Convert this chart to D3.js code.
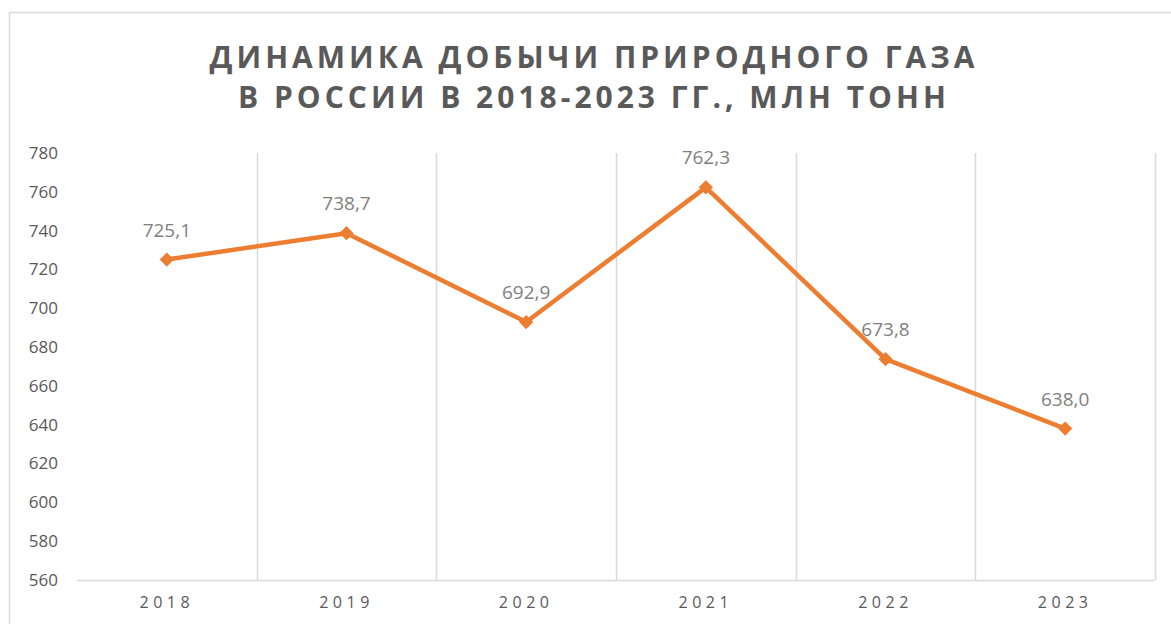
<!DOCTYPE html>
<html>
<head>
<meta charset="utf-8">
<script src="https://cdn.jsdelivr.net/npm/d3@7"></script>
<style>
	body { margin: 0; background: #fff; }
	svg { display: block; font-family: "Open Sans", sans-serif; }
</style>
</head>
<body>
<div id="chart"></div>
<script>
// Data
const years = ["2018", "2019", "2020", "2021", "2022", "2023"];
const production = [725.1, 738.7, 692.9, 762.3, 673.8, 638.0];
const yTicks = [560, 580, 600, 620, 640, 660, 680, 700, 720, 740, 760, 780];
const titleLines = [
	"ДИНАМИКА ДОБЫЧИ ПРИРОДНОГО ГАЗА",
	"В РОССИИ В 2018-2023 ГГ., МЛН ТОНН",
];

const width = 1171;
const height = 624;
const margin = { top: 153, left: 77, right: 16, bottom: 44 };

const svg = d3
	.select("#chart")
	.append("svg")
	.attr("width", width)
	.attr("height", height);

// chart frame (runs off the right and bottom edge)
svg.append("rect")
	.attr("x", 9.5)
	.attr("y", 12.5)
	.attr("width", width + 20)
	.attr("height", height + 20)
	.attr("fill", "none")
	.attr("stroke", "#d9d9d9")
	.attr("stroke-width", 1.5);

// title
svg.append("g")
	.selectAll("text")
	.data(titleLines)
	.join("text")
	.attr("x", 594)
	.attr("y", (d, i) => 68 + i * 40)
	.attr("text-anchor", "middle")
	.attr("fill", "#595959")
	.style("font-size", "30px")
	.style("font-weight", 700)
	.style("letter-spacing", "4px")
	.text((d) => d);

const x = d3
	.scaleBand()
	.domain(years)
	.range([margin.left, width - margin.right]);

const y = d3
	.scaleLinear()
	.domain([560, 780])
	.range([height - margin.bottom, margin.top]);

// vertical gridlines on category boundaries
const bounds = years.map((d) => x(d)).concat([x.range()[1]]);
svg.append("g")
	.selectAll("line")
	.data(bounds.slice(1))
	.join("line")
	.attr("x1", (d) => Math.round(d) + 0.5)
	.attr("x2", (d) => Math.round(d) + 0.5)
	.attr("y1", y(780))
	.attr("y2", y(560))
	.attr("stroke", "#d9d9d9")
	.attr("stroke-width", 1.5);

// x axis line
svg.append("line")
	.attr("x1", margin.left)
	.attr("x2", x.range()[1])
	.attr("y1", Math.round(y(560)) + 0.5)
	.attr("y2", Math.round(y(560)) + 0.5)
	.attr("stroke", "#d9d9d9")
	.attr("stroke-width", 1.5);

// y axis labels
const yAxis = svg
	.append("g")
	.attr("transform", `translate(${margin.left - 19},0)`)
	.call(d3.axisLeft(y).tickValues(yTicks).tickSize(0).tickPadding(0));
yAxis.select(".domain").remove();
yAxis.selectAll("text")
	.attr("fill", "#595959")
	.style("font-size", "17px")
	.style("font-family", "Open Sans, sans-serif");

// x axis labels
const xAxis = svg
	.append("g")
	.attr("transform", `translate(0,${y(560)})`)
	.call(d3.axisBottom(x).tickSize(0).tickPadding(17));
xAxis.select(".domain").remove();
xAxis.selectAll("text")
	.attr("fill", "#595959")
	.style("font-size", "16px")
	.style("letter-spacing", "4.5px")
	.style("font-family", "Open Sans, sans-serif");

const pts = years.map((d, i) => ({ year: d, value: production[i] }));
const cx = (d) => x(d.year) + x.bandwidth() / 2;

// line
svg.append("path")
	.datum(pts)
	.attr("fill", "none")
	.attr("stroke", "#ed7d31")
	.attr("stroke-width", 4.5)
	.attr("stroke-linejoin", "round")
	.attr("d", d3.line().x(cx).y((d) => y(d.value)));

// diamond markers
svg.append("g")
	.selectAll("path")
	.data(pts)
	.join("path")
	.attr("transform", (d) => `translate(${cx(d)},${y(d.value)})`)
	.attr("d", d3.symbol().type(d3.symbolDiamond2).size(130))
	.attr("fill", "#ed7d31");

// data labels
const fmt = (v) => d3.format(".1f")(v).replace(".", ",");
svg.append("g")
	.selectAll("text")
	.data(pts)
	.join("text")
	.attr("x", cx)
	.attr("y", (d) => y(d.value) - 23)
	.attr("text-anchor", "middle")
	.attr("fill", "#7f7f7f")
	.style("font-size", "19px")
	.text((d) => fmt(d.value));
</script>
</body>
</html>
